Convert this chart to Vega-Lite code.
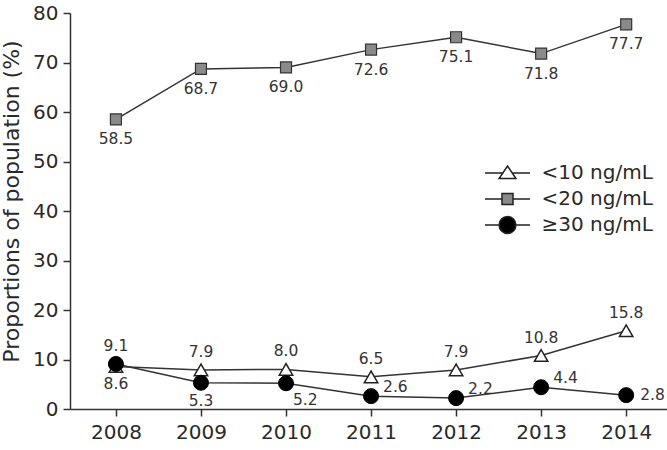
{
  "$schema": "https://vega.github.io/schema/vega-lite/v6.json",
  "width": 597,
  "height": 396,
  "autosize": {"type": "none"},
  "padding": {"left": 70, "top": 13, "right": 0, "bottom": 41},
  "background": "white",
  "config": {
    "view": {"stroke": null},
    "font": "DejaVu Sans",
    "axis": {
      "grid": false,
      "domainColor": "#333333",
      "domainWidth": 1.5,
      "tickColor": "#333333",
      "tickWidth": 1.5,
      "tickSize": 7,
      "labelFont": "DejaVu Sans",
      "labelFontSize": 20,
      "labelColor": "#2a2a2a",
      "titleFont": "DejaVu Sans",
      "titleFontWeight": "normal",
      "titleColor": "#2a2a2a"
    },
    "legend": {
      "title": null,
      "orient": "none",
      "legendX": 425.5,
      "legendY": 148,
      "symbolSize": 506,
      "symbolStrokeWidth": 1.5,
      "symbolOpacity": 1,
      "labelFont": "DejaVu Sans",
      "labelFontSize": 20,
      "labelColor": "#2a2a2a",
      "labelOffset": 22,
      "rowPadding": 4
    }
  },
  "data": {
    "values": [
      {"year": 2008, "series": "<10 ng/mL", "value": 8.6},
      {"year": 2009, "series": "<10 ng/mL", "value": 7.9},
      {"year": 2010, "series": "<10 ng/mL", "value": 8.0},
      {"year": 2011, "series": "<10 ng/mL", "value": 6.5},
      {"year": 2012, "series": "<10 ng/mL", "value": 7.9},
      {"year": 2013, "series": "<10 ng/mL", "value": 10.8},
      {"year": 2014, "series": "<10 ng/mL", "value": 15.8},
      {"year": 2008, "series": "<20 ng/mL", "value": 58.5},
      {"year": 2009, "series": "<20 ng/mL", "value": 68.7},
      {"year": 2010, "series": "<20 ng/mL", "value": 69.0},
      {"year": 2011, "series": "<20 ng/mL", "value": 72.6},
      {"year": 2012, "series": "<20 ng/mL", "value": 75.1},
      {"year": 2013, "series": "<20 ng/mL", "value": 71.8},
      {"year": 2014, "series": "<20 ng/mL", "value": 77.7},
      {"year": 2008, "series": "≥30 ng/mL", "value": 9.1},
      {"year": 2009, "series": "≥30 ng/mL", "value": 5.3},
      {"year": 2010, "series": "≥30 ng/mL", "value": 5.2},
      {"year": 2011, "series": "≥30 ng/mL", "value": 2.6},
      {"year": 2012, "series": "≥30 ng/mL", "value": 2.2},
      {"year": 2013, "series": "≥30 ng/mL", "value": 4.4},
      {"year": 2014, "series": "≥30 ng/mL", "value": 2.8}
    ]
  },
  "encoding": {
    "x": {
      "field": "year",
      "type": "quantitative",
      "scale": {"domain": [2007.46, 2014.48], "nice": false, "zero": false},
      "axis": {
        "title": null,
        "values": [2008, 2009, 2010, 2011, 2012, 2013, 2014],
        "format": "d",
        "labelPadding": 6,
        "labelFlush": false
      }
    },
    "y": {
      "field": "value",
      "type": "quantitative",
      "scale": {"domain": [0, 80], "nice": false},
      "axis": {
        "title": "Proportions of population (%)",
        "titleFontSize": 22,
        "titleAngle": -90,
        "titleAnchor": "middle",
        "titleBaseline": "middle",
        "titleX": -59,
        "titleY": 188,
        "values": [0, 10, 20, 30, 40, 50, 60, 70, 80],
        "labelPadding": 5
      }
    }
  },
  "layer": [
    {
      "mark": {"type": "line", "color": "#333333", "strokeWidth": 1.5},
      "encoding": {"detail": {"field": "series"}}
    },
    {
      "transform": [{"filter": "datum.series == '<10 ng/mL'"}],
      "mark": {"type": "point", "shape": "triangle-up", "size": 180, "filled": true, "fill": "white", "stroke": "#222222", "strokeWidth": 1.5, "opacity": 1}
    },
    {
      "transform": [{"filter": "datum.series == '<20 ng/mL'"}],
      "mark": {"type": "point", "shape": "square", "size": 121, "filled": true, "fill": "#8a8a8a", "stroke": "#333333", "strokeWidth": 1.2, "opacity": 1}
    },
    {
      "transform": [{"filter": "datum.series == '≥30 ng/mL'"}],
      "mark": {"type": "point", "shape": "circle", "size": 225, "filled": true, "fill": "#000000", "stroke": "#000000", "strokeWidth": 1, "opacity": 1}
    },
    {
      "transform": [{"filter": "datum.series == '<20 ng/mL'"}],
      "mark": {"type": "text", "dy": 20, "baseline": "middle", "align": "center", "fontSize": 15.5, "color": "#333333"},
      "encoding": {"text": {"field": "value", "type": "quantitative", "format": ".1f"}}
    },
    {
      "transform": [{"filter": "(datum.series == '<10 ng/mL' && datum.year == 2008) || (datum.series == '≥30 ng/mL' && datum.year == 2009)"}],
      "mark": {"type": "text", "dy": 18, "baseline": "middle", "align": "center", "fontSize": 15.5, "color": "#333333"},
      "encoding": {"text": {"field": "value", "type": "quantitative", "format": ".1f"}}
    },
    {
      "transform": [{"filter": "(datum.series == '<10 ng/mL' && datum.year > 2008) || (datum.series == '≥30 ng/mL' && datum.year == 2008)"}],
      "mark": {"type": "text", "dy": -18, "baseline": "middle", "align": "center", "fontSize": 15.5, "color": "#333333"},
      "encoding": {"text": {"field": "value", "type": "quantitative", "format": ".1f"}}
    },
    {
      "transform": [{"filter": "datum.series == '≥30 ng/mL' && datum.year == 2010"}],
      "mark": {"type": "text", "dx": 7, "dy": 17, "baseline": "middle", "align": "left", "fontSize": 15.5, "color": "#333333"},
      "encoding": {"text": {"field": "value", "type": "quantitative", "format": ".1f"}}
    },
    {
      "transform": [{"filter": "datum.series == '≥30 ng/mL' && datum.year >= 2011 && datum.year <= 2013"}],
      "mark": {"type": "text", "dx": 12, "dy": -9, "baseline": "middle", "align": "left", "fontSize": 15.5, "color": "#333333"},
      "encoding": {"text": {"field": "value", "type": "quantitative", "format": ".1f"}}
    },
    {
      "transform": [{"filter": "datum.series == '≥30 ng/mL' && datum.year == 2014"}],
      "mark": {"type": "text", "dx": 14, "dy": 0, "baseline": "middle", "align": "left", "fontSize": 15.5, "color": "#333333"},
      "encoding": {"text": {"field": "value", "type": "quantitative", "format": ".1f"}}
    },
    {
      "transform": [{"filter": "datum.year > 3000"}],
      "mark": {"type": "point", "filled": false, "strokeWidth": 1.5},
      "encoding": {
        "shape": {
          "field": "series",
          "type": "nominal",
          "scale": {
            "domain": ["<10 ng/mL", "<20 ng/mL", "≥30 ng/mL"],
            "range": [
              "M-2,0L-0.42,0M0.42,0L2,0M0,-0.62L0.75,0.5L-0.75,0.5Z",
              "M-2,0L-0.49,0M0.49,0L2,0M-0.49,-0.49L0.49,-0.49L0.49,0.49L-0.49,0.49Z",
              "M-2,0L-0.75,0M0.75,0L2,0M-0.75,0A0.75,0.75,0,1,1,0.75,0A0.75,0.75,0,1,1,-0.75,0Z"
            ]
          }
        },
        "fill": {
          "field": "series",
          "type": "nominal",
          "scale": {
            "domain": ["<10 ng/mL", "<20 ng/mL", "≥30 ng/mL"],
            "range": ["#ffffff", "#8a8a8a", "#000000"]
          }
        },
        "stroke": {
          "field": "series",
          "type": "nominal",
          "scale": {
            "domain": ["<10 ng/mL", "<20 ng/mL", "≥30 ng/mL"],
            "range": ["#222222", "#222222", "#222222"]
          }
        }
      }
    }
  ]
}
